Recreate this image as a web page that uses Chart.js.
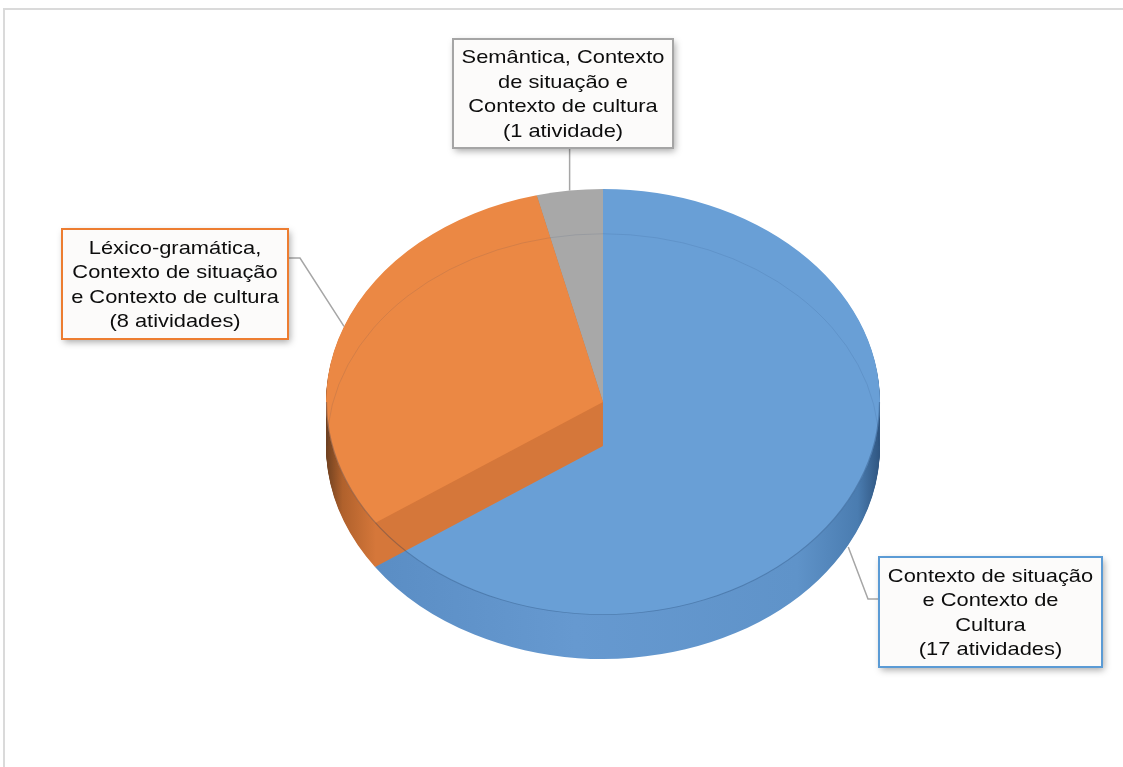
<!DOCTYPE html>
<html>
<head>
<meta charset="utf-8">
<script src="https://cdn.jsdelivr.net/npm/chart.js@4"></script>
<style>
  html, body { margin: 0; padding: 0; background: #fff; overflow: hidden; }
  #frame { position: absolute; left: 3px; top: 8px; width: 1200px; height: 800px;
           border: 2px solid #dadada; box-sizing: border-box; }
  #wrap { position: absolute; left: 0; top: 0; width: 1123px; height: 767px; }
</style>
</head>
<body>
<div id="frame"></div>
<div id="wrap"><canvas id="pieChart" width="1123" height="767"></canvas></div>
<script>
// categories (text lines) and number of activities per category
const CATEGORY_LINES = [
  ["Contexto de situação", "e Contexto de", "Cultura"],
  ["Léxico-gramática,", "Contexto de situação", "e Contexto de cultura"],
  ["Semântica, Contexto", "de situação e", "Contexto de cultura"],
];
const ACTIVITIES = [17, 8, 1];

const TOP_COLORS = ["#699fd6", "#eb8844", "#a8a8a8"];
const EDGE_COLORS = ["#5b9bd5", "#ed7d31", "#a5a5a5"];

// pie geometry: vertical squash and wall thickness
const TILT = 213 / 277;
const DEPTH = 44;
const TEXT_STRETCH = 1.15;

// callout boxes and the elbow of their leader lines
const CALLOUTS = [
  { box: [879, 557, 223, 110], elbow: [868, 599], end: [879, 599], onWall: true },
  { box: [62, 229, 226, 110], elbow: [300, 258], end: [288, 258], onWall: false },
  { box: [453, 39, 220, 109], elbow: null, end: null, onWall: false },
];

function labelLines(i) {
  const n = ACTIVITIES[i];
  return CATEGORY_LINES[i].concat([`(${n} atividade${n > 1 ? "s" : ""})`]);
}

function wallFill(ctx, i, cx, r) {
  const g = ctx.createLinearGradient(cx - r, 0, cx + r, 0);
  if (i === 0) {
    g.addColorStop(0, "#3f6d9e");
    g.addColorStop(0.08, "#5a8dc4");
    g.addColorStop(0.45, "#6699d0");
    g.addColorStop(0.85, "#5f93c9");
    g.addColorStop(0.96, "#4a7cb0");
    g.addColorStop(1, "#2f5580");
  } else if (i === 1) {
    g.addColorStop(0, "#6e4020");
    g.addColorStop(0.03, "#b0612c");
    g.addColorStop(0.09, "#d5773a");
    g.addColorStop(1, "#d5773a");
  } else {
    g.addColorStop(0, "#8e8e8e");
    g.addColorStop(1, "#8e8e8e");
  }
  return g;
}

function squashed(ctx, cy, dy, fn) {
  ctx.save();
  ctx.translate(0, cy + dy);
  ctx.scale(1, TILT);
  ctx.translate(0, -cy);
  fn();
  ctx.restore();
}

const pie3d = {
  id: "pie3d",
  beforeDatasetsDraw(chart) {
    const ctx = chart.ctx;
    const arcs = chart.getDatasetMeta(0).data;
    const cx = arcs[0].x, cy = arcs[0].y, r = arcs[0].outerRadius;

    // back slices first so the orange side face sits over the blue top
    for (const i of [0, 2, 1]) {
      const arc = arcs[i];
      const ghost = Object.create(arc);
      ghost.options = Object.assign({}, arc.options, {
        backgroundColor: wallFill(ctx, i, cx, r), borderWidth: 0,
      });
      for (let d = DEPTH; d >= 1; d--) {
        squashed(ctx, cy, d, () => ghost.draw(ctx));
      }
      squashed(ctx, cy, 0, () => arc.draw(ctx));
    }

    // faint rims of the top face and the hidden bottom face
    squashed(ctx, cy, DEPTH, () => {
      ctx.beginPath();
      ctx.arc(cx, cy, r - 1, Math.PI, Math.PI * 2);
      ctx.lineWidth = 1;
      ctx.strokeStyle = "rgba(20,50,90,0.12)";
      ctx.stroke();
    });
    squashed(ctx, cy, 0, () => {
      ctx.beginPath();
      ctx.arc(cx, cy, r - 0.5, 0, Math.PI);
      ctx.lineWidth = 1.2;
      ctx.strokeStyle = "rgba(20,50,90,0.3)";
      ctx.stroke();
    });
    return false;
  },
  afterDraw(chart) {
    const ctx = chart.ctx;
    const arcs = chart.getDatasetMeta(0).data;
    CALLOUTS.forEach((c, i) => {
      const arc = arcs[i];
      const mid = (arc.startAngle + arc.endAngle) / 2;
      const ax = arc.x + arc.outerRadius * Math.cos(mid);
      const ay = arc.y + arc.outerRadius * Math.sin(mid) * TILT + (c.onWall ? DEPTH + 2 : 0);
      const [bx, by, bw, bh] = c.box;

      // leader line
      ctx.save();
      ctx.beginPath();
      ctx.moveTo(ax, ay);
      if (c.elbow) {
        ctx.lineTo(c.elbow[0], c.elbow[1]);
        ctx.lineTo(c.end[0], c.end[1]);
      } else {
        ctx.lineTo(ax, by + bh);
      }
      ctx.lineWidth = 1.5;
      ctx.strokeStyle = "#a6a6a6";
      ctx.stroke();

      // box with soft shadow
      ctx.shadowColor = "rgba(0,0,0,0.35)";
      ctx.shadowBlur = 7;
      ctx.shadowOffsetX = 2;
      ctx.shadowOffsetY = 3;
      ctx.fillStyle = "#fcfbfa";
      ctx.fillRect(bx, by, bw, bh);
      ctx.shadowColor = "transparent";
      ctx.lineWidth = 2;
      ctx.strokeStyle = EDGE_COLORS[i];
      ctx.strokeRect(bx, by, bw, bh);

      // text
      const lines = labelLines(i);
      const lh = 24.5;
      const tx = bx + bw / 2;
      const ty = by + bh / 2 + 1.5 - lh * (lines.length - 1) / 2;
      ctx.fillStyle = "#0d0d0d";
      ctx.font = '19px "Liberation Sans", Arial, sans-serif';
      ctx.textAlign = "center";
      ctx.textBaseline = "middle";
      lines.forEach((t, k) => {
        ctx.save();
        ctx.translate(tx, ty + k * lh);
        ctx.scale(TEXT_STRETCH, 1);
        ctx.fillText(t, 0, 0);
        ctx.restore();
      });
      ctx.restore();
    });
  },
};

new Chart(document.getElementById("pieChart"), {
  type: "pie",
  data: {
    labels: CATEGORY_LINES.map((l) => l.join(" ")),
    datasets: [{
      data: ACTIVITIES,
      backgroundColor: TOP_COLORS,
      borderWidth: 0,
    }],
  },
  options: {
    responsive: false,
    animation: false,
    layout: { padding: { left: 326, right: 243, top: 125, bottom: 88 } },
    plugins: {
      legend: { display: false },
      tooltip: { enabled: false },
    },
  },
  plugins: [pie3d],
});
</script>
</body>
</html>
